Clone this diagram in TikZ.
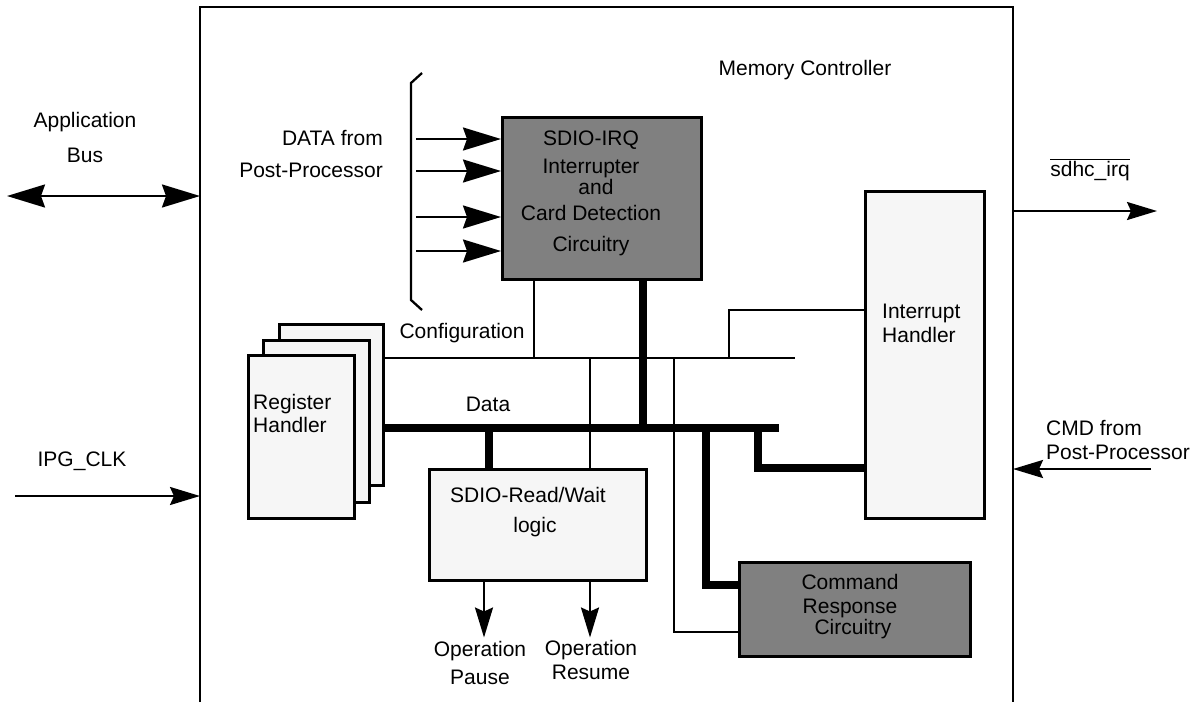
\documentclass[tikz,border=0pt]{standalone}
\usepackage{fontspec}
\setmainfont{Liberation Sans}
\usetikzlibrary{arrows.meta,positioning}

\definecolor{boxdark}{HTML}{808080}
\definecolor{boxlight}{HTML}{F6F6F6}

\tikzset{
  lbl/.style={font=\fontsize{21}{25}\selectfont, inner sep=0pt},
  wire/.style={line width=2.3pt},
  bus/.style={line width=8.5pt},
  lightbox/.style={draw, line width=2.5pt, fill=boxlight, anchor=north west, inner sep=0pt},
  darkbox/.style={lightbox, fill=boxdark},
  arr/.style={wire, -{Stealth[length=30pt,width=18pt,inset=4pt]}},
  bigarr/.style={wire, -{Stealth[length=38pt,width=23pt,inset=4pt]}},
}

\begin{document}
\begin{tikzpicture}[x=1pt,y=-1pt]
    \useasboundingbox (0,0) rectangle (1196,702);
    % outer block
    \draw[line width=2.5pt] (200,702) |- (1013,7) -- (1013,702);
    \coordinate (mcL) at (200,0);
    \coordinate (mcR) at (1013,0);
    \node[lbl, anchor=base] (title) at (805,75) {Memory Controller};

    % blocks
    \node[darkbox, minimum width=199pt, minimum height=162pt] (irq) at (501,116) {};
    \node[lightbox, minimum width=104pt, minimum height=161pt] (reg3) at (278,323) {};
    \node[lightbox, minimum width=106pt, minimum height=162pt] (reg2) at (262,339) {};
    \node[lightbox, minimum width=106pt, minimum height=163pt] (reg1) at (247,354) {};
    \node[lightbox, minimum width=217pt, minimum height=111pt] (rw) at (428,468) {};
    \node[lightbox, minimum width=119pt, minimum height=327pt] (inth) at (864,190) {};
    \node[darkbox, minimum width=231pt, minimum height=94pt] (cmd) at (738,561) {};

    % block texts
    \node[lbl, align=center] (irqtxt) at (591,193)
      {SDIO-IRQ\\[3pt]Interrupter\\[-4pt]\hspace*{10pt}and\\[1pt]Card Detection\\[6pt]Circuitry};
    \node[lbl, align=left, anchor=west] (regtxt) at (253,413) {Register\\[-2pt]Handler};
    \node[lbl, align=center] (rwtxt) at (528,512) {SDIO-Read/Wait\\[5pt]\hspace*{14pt}logic};
    \node[lbl, align=left, anchor=west] (inttxt) at (882,323) {Interrupt\\[-1pt]Handler};
    \node[lbl, align=center] (cmdtxt) at (850,607) {Command\\[-1pt]Response\\[-4pt]\hspace*{6pt}Circuitry};

    % buses
    \coordinate (cfgL) at (384,358);
    \coordinate (cfgR) at (795,358);
    \coordinate (datL) at (384,428);
    \coordinate (datR) at (779,428);
    \draw[wire] (cfgL) -- (cfgR);
    \draw[bus] (datL) -- (datR);
    \node[lbl, anchor=base] (cfgtxt) at (462,338) {Configuration};
    \node[lbl, anchor=base] (dattxt) at (488,411) {Data};

    \draw[wire] (irq.south -| 534,0) -- (534,0 |- cfgL);
    \draw[bus] (irq.south -| 643,0) -- (643,0 |- datL);
    \draw[bus] (489,0 |- datL) -- (rw.north -| 489,0);
    \draw[wire] (590,0 |- cfgL) -- (rw.north -| 590,0);
    \draw[wire] (674,0 |- cfgL) |- (cmd.west |- 0,632);
    \draw[bus] (706,0 |- datL) |- (cmd.west |- 0,585);
    \draw[bus] (758,0 |- datL) |- (inth.west |- 0,468);
    \draw[wire] (729,0 |- cfgL) |- (inth.west |- 0,310);

    % post-processor data
    \draw[wire] (422,73) -- (411,83) -- (411,300) -- (422,310);
    \foreach \yy in {139,171,217,251}
      \draw[bigarr] (416,\yy) -- (irq.west |- 0,\yy);
    \node[lbl, align=right, anchor=east] (ppdata) at (383,154) {DATA from\\[7pt]Post-Processor};

    % read/wait outputs
    \draw[arr] (rw.south -| 484,0) -- ++(0,56) coordinate (pause);
    \draw[arr] (rw.south -| 590,0) -- ++(0,56) coordinate (resume);
    \node[lbl, align=center] (pausetxt) at (480,663) {Operation\\[3pt]Pause};
    \node[lbl, align=center] (resumetxt) at (591,660) {Operation\\[-1pt]Resume};

    % pins
    \coordinate (appB) at (7,196);
    \draw[wire, {Stealth[length=38pt,width=23pt,inset=4pt]}-{Stealth[length=38pt,width=23pt,inset=4pt]}] (appB) -- (appB -| mcL);
    \node[lbl, align=center] (apptxt) at (85,137) {Application\\[10pt]Bus};
    \coordinate (clk) at (15,496);
    \draw[arr] (clk) -- (clk -| mcL);
    \node[lbl, anchor=base] (clktxt) at (82,466) {IPG\_CLK};
    \coordinate (irqout) at (1157,211);
    \draw[arr] (irqout -| mcR) -- (irqout);
    \node[lbl, anchor=base] (irqtxt2) at (1090,176) {$\overline{\mbox{sdhc\_irq}}$};
    \coordinate (cmdin) at (1151,469);
    \draw[arr] (cmdin) -- (cmdin -| mcR);
    \node[lbl, align=left, anchor=west] (cmdintxt) at (1046,440) {CMD from\\[-1pt]Post-Processor};
\end{tikzpicture}
\end{document}
